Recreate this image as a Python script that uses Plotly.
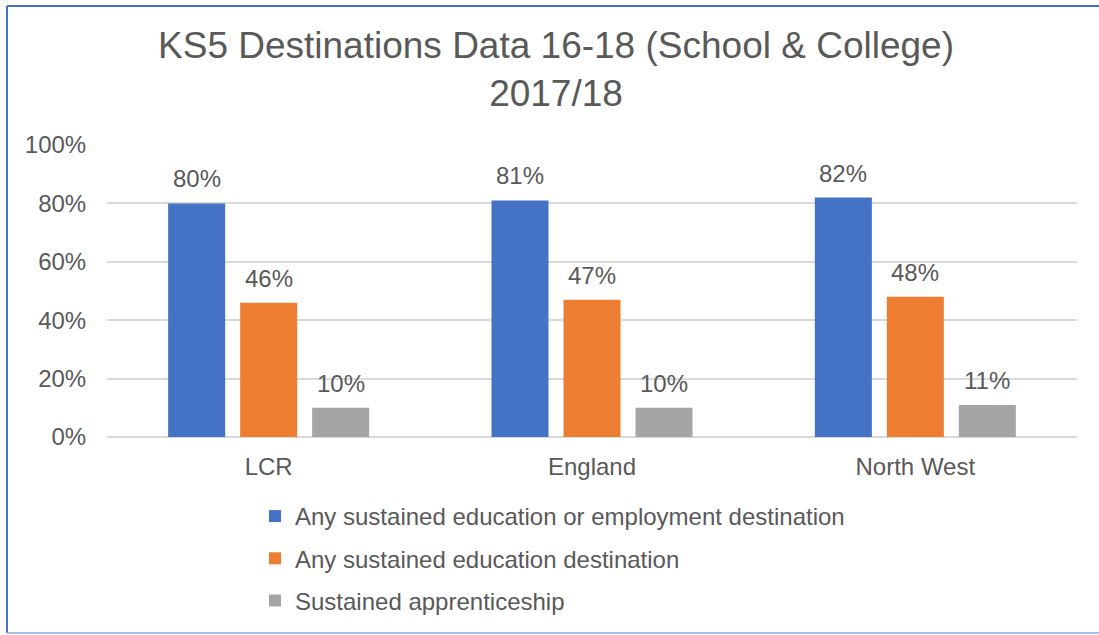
import plotly.graph_objects as go

# Destination rates by area, KS5 cohort 2017/18
areas = ["LCR", "England", "North West"]
series_names = [
    "Any sustained education or employment destination",
    "Any sustained education destination",
    "Sustained apprenticeship",
]
edu_or_employment = [0.80, 0.81, 0.82]
edu_only = [0.46, 0.47, 0.48]
apprenticeship = [0.10, 0.10, 0.11]
y_ticks = [0, 0.2, 0.4, 0.6, 0.8, 1.0]
y_tick_labels = ["0%", "20%", "40%", "60%", "80%", "100%"]

colors = ["#4472C4", "#ED7D31", "#A5A5A5"]
text_color = "#595959"
font_family = "Liberation Sans, Arial, sans-serif"

W, H = 1099, 635
M_L, M_R, M_T, M_B = 107, 22, 145, 198
PLOT_W = W - M_L - M_R
PLOT_H = H - M_T - M_B
BARGAP = 0.332
BARGROUPGAP = 0.208


def px_to_paper_x(px):
    return (px - M_L) / PLOT_W


def px_to_paper_y(py):
    return (H - M_B - py) / PLOT_H


all_series = [edu_or_employment, edu_only, apprenticeship]
n_series = len(all_series)
slot = (1 - BARGAP) / n_series  # width of one bar slot in category units

fig = go.Figure()
for k, (name, values, color) in enumerate(zip(series_names, all_series, colors)):
    fig.add_trace(go.Bar(
        x=areas,
        y=values,
        name=name,
        legendgroup=name,
        marker=dict(color=color, line=dict(width=0)),
    ))
    # value labels above each bar
    offset = (k - (n_series - 1) / 2) * slot
    for i, v in enumerate(values):
        fig.add_annotation(
            x=i + offset, y=v, xref="x", yref="y",
            text=f"{v:.0%}", showarrow=False,
            xanchor="center", yanchor="bottom", yshift=9,
            font=dict(size=24, color=text_color, family=font_family),
        )

fig.update_layout(
    width=W,
    height=H,
    margin=dict(l=M_L, r=M_R, t=M_T, b=M_B),
    paper_bgcolor="white",
    plot_bgcolor="white",
    font=dict(family=font_family, color=text_color, size=24),
    barmode="group",
    bargap=BARGAP,
    bargroupgap=BARGROUPGAP,
    title=dict(
        text="KS5 Destinations Data 16-18 (School & College)<br>2017/18",
        x=556 / W,
        xanchor="center",
        xref="container",
        y=1 - 58 / H,
        yanchor="top",
        yref="container",
        font=dict(size=37, color=text_color, family=font_family),
    ),
    xaxis=dict(
        showgrid=False,
        showline=False,
        ticks="outside",
        ticklen=8,
        tickcolor="rgba(0,0,0,0)",
        tickfont=dict(size=24, color=text_color),
    ),
    yaxis=dict(
        range=[0, 1.0],
        tickvals=y_ticks,
        ticktext=y_tick_labels,
        showgrid=True,
        gridcolor="#D9D9D9",
        gridwidth=1.5,
        zeroline=True,
        zerolinecolor="#D9D9D9",
        zerolinewidth=1.5,
        ticks="outside",
        ticklen=15,
        tickcolor="rgba(0,0,0,0)",
        tickfont=dict(size=24, color=text_color),
    ),
    legend=dict(
        orientation="v",
        x=px_to_paper_x(255),
        xanchor="left",
        y=px_to_paper_y(494),
        yanchor="top",
        tracegroupgap=8,
        font=dict(size=24, color=text_color),
        bgcolor="rgba(0,0,0,0)",
    ),
    showlegend=True,
)

# Chart frame edges (left, top, bottom), placed in page pixels
frame = [
    ((7, 633), (7, 6), "#4472C4"),
    ((7, 6), (W, 6), "#4472C4"),
    ((7, 633), (W, 633), "#A9C1EA"),
]
for (x0, y0), (x1, y1), color in frame:
    fig.add_shape(type="line", xref="paper", yref="paper",
                  x0=px_to_paper_x(x0), y0=px_to_paper_y(y0),
                  x1=px_to_paper_x(x1), y1=px_to_paper_y(y1),
                  line=dict(color=color, width=2), layer="above")

fig.write_html("out.html")
